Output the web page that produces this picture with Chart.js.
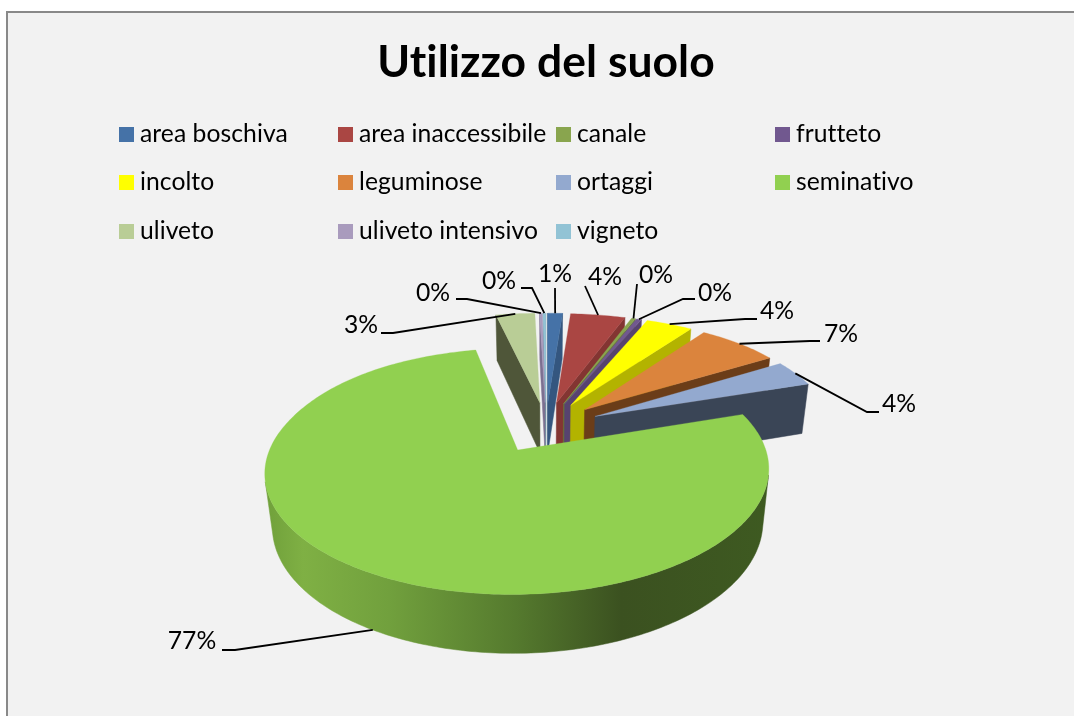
<!DOCTYPE html>
<html><head><meta charset="utf-8">
<style>html,body{margin:0;padding:0;background:#fff}canvas{display:block}</style>
<script src="https://cdn.jsdelivr.net/npm/chart.js@4"></script></head>
<body><div style="width:1074px;height:716px"><canvas id="c" width="1074" height="716"></canvas></div>
<script>
const titleText = 'Utilizzo del suolo';
const categories = ['area boschiva','area inaccessibile','canale','frutteto','incolto','leguminose','ortaggi','seminativo','uliveto','uliveto intensivo','vigneto'];
const values = [1.1,4.1,0.3,0.4,3.6,6.6,3.8,76.8,2.9,0.2,0.2];
const topColors = ['#4572A7','#AA4643','#89A54E','#71588F','#FFFF00','#DB843D','#93A9CF','#91D050','#B9CD96','#A99BBD','#92C3D5'];
const wallColors = ['#34567f','#833532','#66793a','#57436f','#b3b300','#6b3d18','#3a4556','#6a9a38','#4f5639','#7c7091','#6c93a1'];
const wallStops = [[0,'#6f9f3a'],[0.08,'#7fb044'],[0.25,'#71a03d'],[0.5,'#557a2e'],[0.71,'#3b5120'],[1,'#3e5a21']];
// layout of leader lines and labels: elbow x/y, stub end x, label centre x/y
const elbows = [null,null,null,[683,299,695],[745,319,757],[810,341,820],[867,412,879],[235,650,222],[393,333,381],[467,299,456],[532,288,521]];
const leaderEnds = [[555,288],[585,286],[637,284],null,null,null,null,null,null,null,null];
const labelPos = [[555,274],[605,277],[656,275],[715,293],[777,311],[841,334],[899,404],[192,641],[361,325],[433,293],[499,281]];
const legendCols = [119,338,556,775], legendRows = [127,175,224];
const PERSP = 0.1665, PERSP_X_EASE = 0.06, TILT = 0.4655, DEPTH = 53, LOWER = 0.026;

function project(a, theta, r, lower){
  const mid=(a.startAngle+a.endAngle)/2, off=a.options.offset, R=a.outerRadius;
  const u=off*Math.cos(mid)+r*Math.cos(theta), v=off*Math.sin(mid)+r*Math.sin(theta);
  const l=lower?LOWER:0, x=v/R, w=1-PERSP*x+l, wx=w-(x<0?PERSP_X_EASE*x*x:0);
  return [a.x+u/wx, a.y+TILT*v/w+(lower?DEPTH/w:0)];
}
function area(p){let s=0;for(let i=0;i<p.length;i++){const q=p[(i+1)%p.length];s+=p[i][0]*q[1]-q[0]*p[i][1];}return s;}
function poly(ctx,p,fill,seam){ctx.beginPath();p.forEach((q,i)=>i?ctx.lineTo(q[0],q[1]):ctx.moveTo(q[0],q[1]));ctx.closePath();ctx.fillStyle=fill;ctx.fill();if(seam){ctx.strokeStyle=fill;ctx.lineWidth=seam;ctx.stroke();}}

const solidPie = {
  id:'solidPie',
  beforeDraw(chart){
    const ctx=chart.ctx;
    ctx.letterSpacing='0.05px';
    ctx.save();
    ctx.fillStyle='#f2f2f2';ctx.fillRect(7,12,1074,716);
    ctx.strokeStyle='#898989';ctx.lineWidth=2;ctx.beginPath();ctx.moveTo(7,716);ctx.lineTo(7,12);ctx.lineTo(1074,12);ctx.stroke();
    ctx.restore();
  },
  beforeDatasetsDraw(chart){
    const ctx=chart.ctx, arcs=chart.getDatasetMeta(0).data;
    const order=arcs.map((a,i)=>i).sort((i,j)=>Math.sin((arcs[i].startAngle+arcs[i].endAngle)/2)-Math.sin((arcs[j].startAngle+arcs[j].endAngle)/2));
    ctx.save();
    for(const i of order){
      const a=arcs[i],R=a.outerRadius,s=a.startAngle,e=a.endAngle;
      let wall=wallColors[i];
      if(i===7){wall=ctx.createLinearGradient(a.x-283,0,a.x+222,0);wallStops.forEach(q=>wall.addColorStop(q[0],q[1]));}
      const n=Math.max(2,Math.ceil((e-s)/(Math.PI/180)));
      const sf=[project(a,s,0,false),project(a,s,R,false),project(a,s,R,true),project(a,s,0,true)];
      const ef=[project(a,e,0,false),project(a,e,R,false),project(a,e,R,true),project(a,e,0,true)];
      if(area(sf)<0)poly(ctx,sf,wall,0.5);
      if(area(ef)>0)poly(ctx,ef,wall,0.5);
      let upper=[],lower=[];
      const flush=()=>{if(upper.length)poly(ctx,upper.concat(lower.reverse()),wall,0.5);upper=[];lower=[];};
      for(let t=0;t<n;t++){
        const t1=s+(e-s)*t/n,t2=s+(e-s)*(t+1)/n;
        const q=[project(a,t1,R,false),project(a,t2,R,false),project(a,t2,R,true),project(a,t1,R,true)];
        if(area(q)<0){
          if(!upper.length){upper.push(q[0]);lower.push(q[3]);}
          upper.push(q[1]);lower.push(q[2]);
        } else flush();
      }
      flush();
      const top=[project(a,s,0,false)];
      for(let t=0;t<=n;t++)top.push(project(a,s+(e-s)*t/n,R,false));
      poly(ctx,top,topColors[i],0.3);
    }
    ctx.restore();
    return false;
  },
  afterDraw(chart){
    const ctx=chart.ctx, arcs=chart.getDatasetMeta(0).data, total=values.reduce((x,y)=>x+y,0);
    ctx.save();
    ctx.textBaseline='middle';ctx.textAlign='left';ctx.font='24.7px Lato';
    categories.forEach((c,i)=>{
      const x=legendCols[i%4],y=legendRows[Math.floor(i/4)];
      ctx.fillStyle=topColors[i];ctx.fillRect(x,y,15,15);
      ctx.fillStyle='#000';ctx.fillText(c,x+21,y+7);
    });
    ctx.textAlign='center';
    arcs.forEach((a,i)=>{
      const mid=(a.startAngle+a.endAngle)/2, st=project(a,mid,a.outerRadius,i===7);
      ctx.strokeStyle='#000';ctx.lineWidth=1.8;ctx.beginPath();ctx.moveTo(st[0],st[1]);
      if(elbows[i]){ctx.lineTo(elbows[i][0],elbows[i][1]);ctx.lineTo(elbows[i][2],elbows[i][1]);}
      else ctx.lineTo(leaderEnds[i][0],leaderEnds[i][1]);
      ctx.stroke();
      ctx.fillStyle='#000';ctx.fillText(Math.round(values[i]/total*100)+'%',labelPos[i][0],labelPos[i][1]);
    });
    ctx.restore();
  }
};
new Chart(document.getElementById('c'),{
  type:'pie',
  data:{labels:categories,datasets:[{data:values,backgroundColor:topColors,offset:55,borderWidth:0}]},
  options:{
    responsive:false,animation:false,radius:240,
    layout:{padding:{left:18,right:0,top:0,bottom:0}},
    plugins:{
      legend:{display:false},tooltip:{enabled:false},
      title:{display:true,text:titleText,color:'#000',font:{family:'Lato',size:44.4,weight:'bold'},padding:{top:36,bottom:49}}
    }
  },
  plugins:[solidPie]
});
</script></body></html>
